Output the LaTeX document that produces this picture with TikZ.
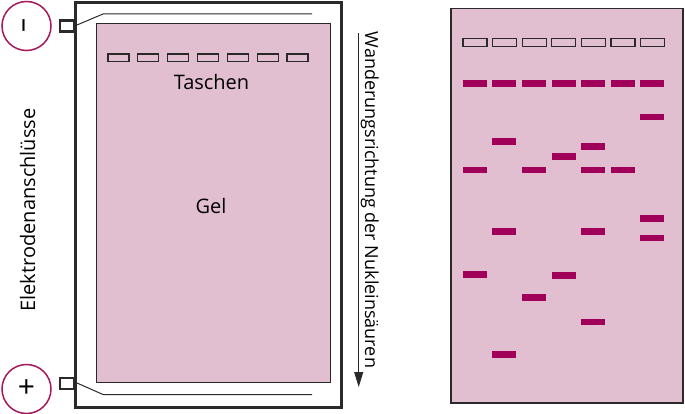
\documentclass[tikz,border=0pt]{standalone}
\usepackage{fontspec}
\setmainfont{Open Sans}
\usetikzlibrary{arrows.meta}
\definecolor{gelpink}{HTML}{E1BFD0}
\definecolor{band}{HTML}{A0005A}
\definecolor{ring}{HTML}{A3195B}
\definecolor{frame}{HTML}{2A2A2A}
\tikzset{
  wellbox/.style={draw=frame,line width=1.3pt,fill=gelpink},
  bandbox/.style={fill=band,draw=none},
  lbl/.style={inner sep=0pt,font=\fontsize{20}{20}\selectfont},
  electrode/.style={circle,draw=ring,line width=1.5pt,minimum size=49pt,inner sep=0pt}
}
\begin{document}
\begin{tikzpicture}[x=1pt,y=-1pt]
\useasboundingbox (0,0) rectangle (685,414);
% ---- left apparatus ----
\draw[frame,line width=3pt] (75.5,3) rectangle (341.5,407.5);
\draw[frame,line width=1pt] (77,25) -- (103,14) -- (312,14);
\draw[frame,line width=1pt] (77,383) -- (103,394.5) -- (312,394.5);
\draw[frame,line width=1pt,fill=gelpink] (96,23.5) rectangle (330,382);
\foreach \i in {0,...,6}{
  \draw[wellbox] ({108+\i*29.83},54) rectangle ({129+\i*29.83},61.5);
}
\node[lbl,anchor=base] (taschen) at (211.5,89.5) {Taschen};
\node[lbl,anchor=base] (gel) at (211,213) {Gel};
% electrodes
\draw[frame,line width=2.5pt] (60,20.5) rectangle (74.5,31.5);
\draw[frame,line width=2.5pt] (60,378) rectangle (74.5,389);
\node[electrode] (minus) at (26.5,26) {};
\node[electrode] (plus) at (26.5,389) {};
\node[lbl,rotate=90,font=\fontsize{28}{28}\selectfont] at ([xshift=0.5pt]minus.center) {–};
\node[lbl,font=\fontsize{30}{30}\selectfont] at (plus) {+};
\node[lbl,rotate=90,anchor=base] (elektro) at (35,210) {Elektrodenanschlüsse};
% direction arrow
\coordinate (astart) at (358.7,33);
\coordinate (aend) at (358.7,387);
\draw[frame,line width=1pt,-{Triangle[length=15pt,width=9pt]}] (astart) -- (aend);
\node[lbl,rotate=-90,anchor=base,font=\fontsize{18}{18}\selectfont] (wander) at (365,200) {Wanderungsrichtung der Nukleinsäuren};
% ---- right gel ----
\draw[frame,line width=1.5pt,fill=gelpink] (451,8.5) rectangle (683,403);
\foreach \i in {0,...,6}{
  \draw[wellbox] ({463+\i*29.6},38.5) rectangle ({487+\i*29.6},46.5);
}
\foreach \l/\y in {1/83.3,2/83.3,3/83.3,4/83.3,5/83.3,6/83.3,7/83.3,
                  7/117,2/141.7,5/146.7,4/156.7,
                  1/170,3/170,5/170,6/170,
                  7/218.7,2/231.7,5/231.7,7/238,
                  1/274.3,4/275.5,3/297.7,5/322,2/354.7}{
  \fill[band] ({462.7+(\l-1)*29.6},{\y-3.3}) rectangle ({486.7+(\l-1)*29.6},{\y+3.3});
}
\end{tikzpicture}
\end{document}
